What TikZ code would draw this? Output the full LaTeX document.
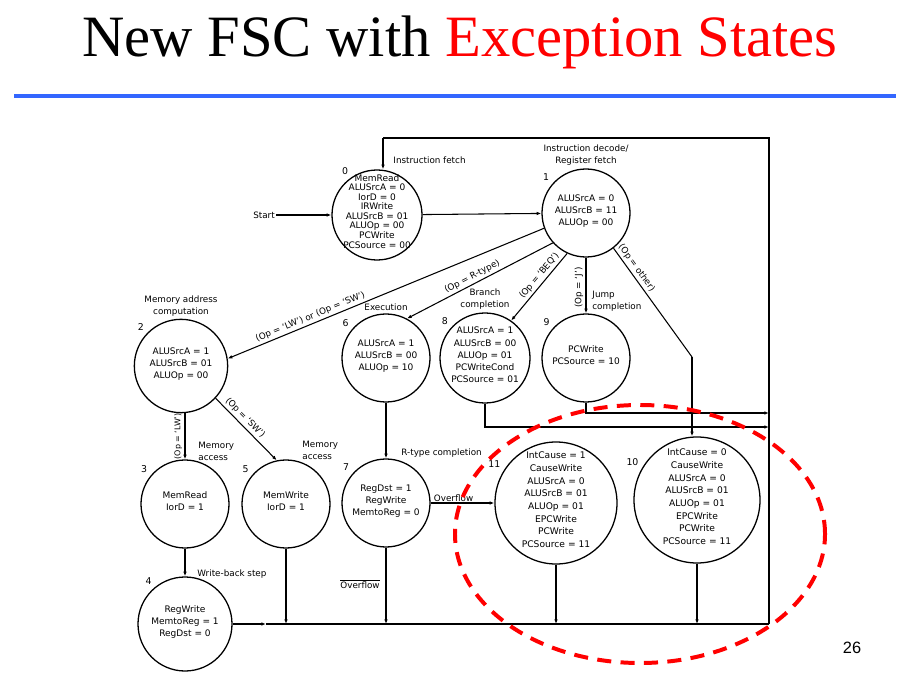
\documentclass[tikz,border=0pt]{standalone}
\usepackage{fontspec}
\usepackage{xcolor}
\usetikzlibrary{positioning,arrows.meta}
\newfontfamily\dgfont{DejaVu Sans}
\newfontfamily\ttlfont{Liberation Serif}
\newfontfamily\pgfont{Liberation Sans}
\definecolor{slideblue}{RGB}{51,102,255}
\newcommand{\stlines}[1]{\smash{\makebox[0pt]{\begin{tabular}{@{}c@{}}#1\end{tabular}}}}

\begin{document}
\begin{tikzpicture}[x=0.03cm, y=-0.03cm, >={Latex[length=4pt,width=3pt]},
  state/.style={draw, circle, line width=1.1pt, inner sep=0pt, minimum size=#1, font=\dgfont\fontsize{7.7}{10.3}\selectfont},
  state/.default=2.64cm,
  lbl/.style={font=\dgfont\fontsize{7.5}{10.2}\selectfont, inner sep=1pt, align=center},
  edgelbl/.style={lbl, sloped, above=1pt},
  wire/.style={line width=0.9pt},
  every label/.style={font=\dgfont\fontsize{8}{9}\selectfont, inner sep=1pt},
  label distance=2pt]
  \useasboundingbox (0,0) rectangle (908,685);
  \node[font=\ttlfont\fontsize{50}{60}\selectfont, anchor=base, inner sep=0pt] (title) at (460,57) {New FSC with \textcolor{red}{Exception States}};
  \draw[slideblue, line width=3pt] (14,96) -- (896,96);
  \node[font=\pgfont\fontsize{14}{16}\selectfont] (page) at (852,648) {26};

  \node[state=2.7cm, font=\dgfont\fontsize{7.7}{8}\selectfont, label=125:0] (s0) at (377,215) {\stlines{MemRead\\ALUSrcA = 0\\IorD = 0\\IRWrite\\ALUSrcB = 01\\ALUOp = 00\\PCWrite\\PCSource = 00}};
  \node[state, label=139:1] (s1) at (586,213) {\stlines{ALUSrcA = 0\\ALUSrcB = 11\\ALUOp = 00}};
  \node[state=2.8cm, label=136:2] (s2) at (181,366) {\stlines{ALUSrcA = 1\\ALUSrcB = 01\\ALUOp = 00}};
  \node[state, label=140:6] (s6) at (386,358) {\stlines{ALUSrcA = 1\\ALUSrcB = 00\\ALUOp = 10}};
  \node[state=2.7cm, label=138:8] (s8) at (485,358) {\stlines{ALUSrcA = 1\\ALUSrcB = 00\\ALUOp = 01\\PCWriteCond\\PCSource = 01}};
  \node[state, label=138:9] (s9) at (586,358) {\stlines{PCWrite\\PCSource = 10}};
  \node[state, label=141:3] (s3) at (185,504) {\stlines{MemRead\\IorD = 1}};
  \node[state, label=140:5] (s5) at (286,504) {\stlines{MemWrite\\IorD = 1}};
  \node[state, label=139:7] (s7) at (386,503) {\stlines{RegDst = 1\\RegWrite\\MemtoReg = 0}};
  \node[state=3.66cm, font=\dgfont\fontsize{7.8}{10.8}\selectfont, label=148:11] (s11) at (556,503) {\stlines{IntCause = 1\\CauseWrite\\ALUSrcA = 0\\ALUSrcB = 01\\ALUOp = 01\\EPCWrite\\PCWrite\\PCSource = 11}};
  \node[state=3.78cm, font=\dgfont\fontsize{7.8}{10.8}\selectfont, label=150:10] (s10) at (697,500) {\stlines{IntCause = 0\\CauseWrite\\ALUSrcA = 0\\ALUSrcB = 01\\ALUOp = 01\\EPCWrite\\PCWrite\\PCSource = 11}};
  \node[state=2.82cm, label=130:4] (s4) at (185,624) {\stlines{RegWrite\\MemtoReg = 1\\RegDst = 0}};

  \node[lbl] (start) at (264,215) {Start};
  \node[lbl, anchor=west] (lfetch) at (392,160) {Instruction fetch};
  \node[lbl, above=1pt of s1] (ldecode) {Instruction decode/\\Register fetch};
  \node[lbl, above=1pt of s2] (laddr) {Memory address\\computation};
  \node[lbl, above=1pt of s6] (lexec) {Execution};
  \node[lbl, above=1pt of s8] (lbranch) {Branch\\completion};
  \node[lbl, anchor=west, align=left] (ljump) at (591,301) {Jump\\completion};
  \node[lbl, anchor=west, align=left] (lmem3) at (197,451) {Memory\\access};
  \node[lbl, anchor=west, align=left] (lmem5) at (301,450) {Memory\\access};
  \node[lbl, anchor=west] (lrtype) at (400,453) {R-type completion};
  \node[lbl, anchor=west] (lwb) at (196,574) {Write-back step};
  \node[lbl] (lnovf) at (360,584) {$\overline{\mbox{Overflow}}$};

  \coordinate (ob) at (692,357);
  \coordinate (tl) at (383,138);
  \coordinate (tr) at (769,138);
  \coordinate (br) at (769,624);
  \coordinate (r8) at (769,427);
  \coordinate (r9) at (769,413);
  \coordinate (m4) at (266,624);
  \coordinate (b5) at (286,624);
  \coordinate (b7) at (386,624);
  \coordinate (b11) at (556,624);
  \coordinate (b10) at (697,624);

  \draw[wire,->] (start) -- (s0);
  \draw[wire,->] (s0) -- (s1);
  \draw[wire,->] (s1.200) -- node[edgelbl, pos=0.73] (llwsw) {(Op = ‘LW’) or (Op = ‘SW’)} (s2.9);
  \draw[wire,->] (s1.222) -- node[edgelbl, pos=0.53] (lrt) {(Op = R-type)} (s6.62);
  \draw[wire,->] (s1.245) -- node[edgelbl, pos=0.4] (lbeq) {(Op = ‘BEQ’)} (s8.55);
  \draw[wire,<-] (s9) -- node[edgelbl, pos=0.46] (lj) {(Op = ‘J’)} (s1);
  \draw[wire] (s1.308) -- node[edgelbl, pos=0.22] (loth) {(Op = other)} (ob);
  \draw[wire,->] (ob) -- (ob |- s10.north);
  \draw[wire,<-] (s3) -- node[edgelbl, pos=0.5, font=\dgfont\fontsize{6.8}{8}\selectfont] (llw) {(Op = ‘LW’)} (s3 |- s2.south);
  \draw[wire,->] (s2.317) -- node[edgelbl, pos=0.4] (lsw) {(Op = ‘SW’)} (s5.102);
  \draw[wire,->] (s6) -- (s7);
  \draw[wire,->] (s7) -- node[lbl, above=0pt, pos=0.36] (lovf) {Overflow} (s11);
  \draw[wire,->] (s3) -- (s4);
  \draw[wire,->] (s4) -- (m4);
  \draw[wire] (m4) -- (br);
  \draw[wire,->] (s5) -- (b5);
  \draw[wire,->] (s7) -- (b7);
  \draw[wire,->] (s11) -- (b11);
  \draw[wire,->] (s10) -- (b10);
  \draw[wire,->] (s8.south) |- (r8);
  \draw[wire,->] (s9.south) |- (r9);
  \draw[wire] (br) -- (tr) -- (tl);
  \draw[wire,->] (tl) -- (tl |- s0.north);

  \draw[red, line width=3.4pt, dash pattern=on 12pt off 8pt] (640,534) ellipse [x radius=5.55cm, y radius=3.87cm];
\end{tikzpicture}
\end{document}
